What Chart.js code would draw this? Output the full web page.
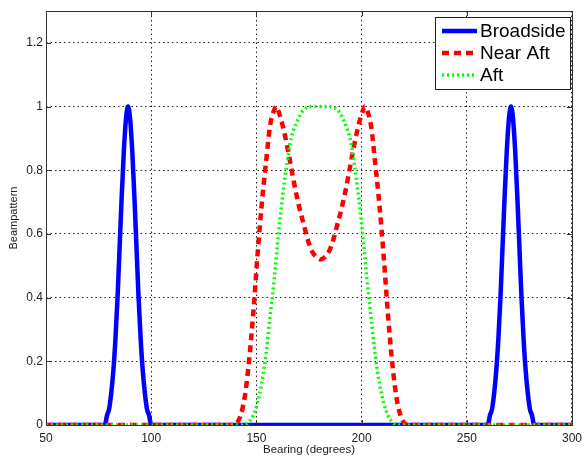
<!DOCTYPE html>
<html>
<head>
<meta charset="utf-8">
<script src="https://cdn.jsdelivr.net/npm/chart.js@4"></script>
<style>
  html, body { margin: 0; padding: 0; background: #fff; }
  #wrap { width: 588px; height: 457px; }
</style>
</head>
<body>
<div id="wrap"><canvas id="beamChart"></canvas></div>
<script>
// Datos
const xTicks = [50, 100, 150, 200, 250, 300];
const yTicks = [0, 0.2, 0.4, 0.6, 0.8, 1, 1.2];

const broadsideBearing = [50,
  78, 79, 80, 81, 82, 83, 84, 85, 86, 87, 88, 89, 90, 91, 92, 93, 94, 95, 96, 97, 98, 99, 100,
  260, 261, 262, 263, 264, 265, 266, 267, 268, 269, 270, 271, 272, 273, 274, 275, 276, 277, 278, 279, 280, 281, 282,
  300];
const broadsideLevel = [0,
  0, 0.03, 0.05, 0.1, 0.17, 0.27, 0.4, 0.56, 0.72, 0.86, 0.96, 1, 0.96, 0.86, 0.72, 0.56, 0.4, 0.27, 0.17, 0.1, 0.05, 0.03, 0,
  0, 0.03, 0.05, 0.1, 0.17, 0.27, 0.4, 0.56, 0.72, 0.86, 0.96, 1, 0.96, 0.86, 0.72, 0.56, 0.4, 0.27, 0.17, 0.1, 0.05, 0.03, 0,
  0];

const nearAftBearing = [50,
  138.5, 140.5, 142.5, 144.5, 146.5, 148.5, 150.5, 152.5, 154.5, 156.5, 158.5, 159.5, 160.5, 162.5, 164.5, 166.5,
  168.5, 170.5, 172.5, 174.5, 176.5, 178.5, 180.5,
  182.5, 184.5, 186.5, 188.5, 190.5, 192.5, 194.5, 196.5, 198.5, 200.5, 201.5, 202.5, 204.5, 206.5, 208.5, 210.5,
  212.5, 214.5, 216.5, 218.5, 220.5, 222.5,
  300];
const nearAftLevel = [0,
  0, 0.005, 0.03, 0.09, 0.2, 0.35, 0.53, 0.69, 0.82, 0.94, 0.99, 1, 0.985, 0.94, 0.88, 0.81,
  0.74, 0.68, 0.63, 0.58, 0.545, 0.527, 0.52,
  0.527, 0.545, 0.58, 0.63, 0.68, 0.74, 0.81, 0.88, 0.94, 0.985, 1, 0.99, 0.94, 0.82, 0.69, 0.53,
  0.35, 0.2, 0.09, 0.03, 0.005, 0,
  0];

const aftBearing = [50,
  144.5, 146.5, 148.5, 150.5, 152.5, 154.5, 156.5, 158.5, 160.5, 162.5, 164.5, 166.5, 168.5, 170.5, 172.5, 176.5,
  180.5,
  184.5, 188.5, 190.5, 192.5, 194.5, 196.5, 198.5, 200.5, 202.5, 204.5, 206.5, 208.5, 210.5, 212.5, 214.5, 216.5,
  300];
const aftLevel = [0,
  0, 0.01, 0.03, 0.07, 0.13, 0.22, 0.34, 0.46, 0.6, 0.72, 0.82, 0.9, 0.94, 0.97, 0.99, 1,
  1,
  1, 0.99, 0.97, 0.94, 0.9, 0.82, 0.72, 0.6, 0.46, 0.34, 0.22, 0.13, 0.07, 0.03, 0.01, 0,
  0];

const toPoints = (xs, ys) => xs.map((x, i) => ({ x: x, y: ys[i] }));

const gridDash = [1.5, 3];
const fontName = "'Liberation Sans', Arial, sans-serif";

// Marco, marcas de escala y leyenda dentro del área
const matlabFrame = {
  id: 'matlabFrame',
  afterDraw(chart) {
    const ctx = chart.ctx;
    const a = chart.chartArea;
    const xs = chart.scales.x, ys = chart.scales.y;
    ctx.save();
    ctx.strokeStyle = '#333';
    ctx.lineWidth = 1;
    ctx.setLineDash([]);
    ctx.strokeRect(Math.round(a.left) + 0.5, Math.round(a.top) + 0.5,
      Math.round(a.right - a.left), Math.round(a.bottom - a.top));
    ctx.beginPath();
    xTicks.forEach(t => {
      const px = Math.round(xs.getPixelForValue(t)) + 0.5;
      ctx.moveTo(px, a.bottom); ctx.lineTo(px, a.bottom - 5);
      ctx.moveTo(px, a.top); ctx.lineTo(px, a.top + 5);
    });
    yTicks.forEach(t => {
      const py = Math.round(ys.getPixelForValue(t)) + 0.5;
      ctx.moveTo(a.left, py); ctx.lineTo(a.left + 5, py);
      ctx.moveTo(a.right, py); ctx.lineTo(a.right - 5, py);
    });
    ctx.stroke();

    // leyenda
    const bx = 435.5, by = 17.5, bw = 135, bh = 72;
    ctx.fillStyle = '#fff';
    ctx.fillRect(bx, by, bw, bh);
    ctx.strokeStyle = '#222';
    ctx.strokeRect(bx, by, bw, bh);
    ctx.font = '19px ' + fontName;
    ctx.textBaseline = 'middle';
    ctx.textAlign = 'left';
    chart.data.datasets.forEach((ds, i) => {
      const y = 31 + i * 22;
      ctx.beginPath();
      ctx.strokeStyle = ds.borderColor;
      ctx.lineWidth = ds.borderWidth;
      ctx.setLineDash(ds.borderDash || []);
      ctx.moveTo(442, y); ctx.lineTo(477, y);
      ctx.stroke();
      ctx.setLineDash([]);
      ctx.fillStyle = '#000';
      ctx.fillText(ds.label, 480, y + 1);
    });
    ctx.restore();
  }
};

new Chart(document.getElementById('beamChart'), {
  type: 'line',
  data: {
    datasets: [{
      label: 'Broadside',
      data: toPoints(broadsideBearing, broadsideLevel),
      borderColor: '#0000ff',
      borderWidth: 4.5,
      order: 2
    }, {
      label: 'Near Aft',
      data: toPoints(nearAftBearing, nearAftLevel),
      borderColor: '#ff0000',
      borderWidth: 4.5,
      borderDash: [7, 5],
      order: 1
    }, {
      label: 'Aft',
      data: toPoints(aftBearing, aftLevel),
      borderColor: '#00ff00',
      borderWidth: 3.5,
      borderDash: [2, 3],
      order: 0
    }]
  },
  options: {
    responsive: true,
    maintainAspectRatio: false,
    animation: false,
    elements: { point: { radius: 0 }, line: { cubicInterpolationMode: 'monotone', fill: false } },
    layout: { padding: { top: 11, right: 12, left: 0, bottom: 0 } },
    plugins: { legend: { display: false }, tooltip: { enabled: false } },
    scales: {
      x: {
        type: 'linear',
        min: 50, max: 300,
        afterFit: s => { s.height = 32; },
        afterBuildTicks: s => { s.ticks = xTicks.map(v => ({ value: v })); },
        grid: { color: '#222', lineWidth: 1, drawTicks: false },
        border: { display: false, dash: gridDash },
        ticks: { color: '#222', font: { family: fontName, size: 12 }, padding: 6, maxRotation: 0 },
        title: { display: true, text: 'Bearing (degrees)', color: '#222',
          font: { family: fontName, size: 11.5 }, padding: { top: 0, bottom: 0 } }
      },
      y: {
        min: 0, max: 1.3,
        afterFit: s => { s.width = 46; },
        afterBuildTicks: s => { s.ticks = yTicks.map(v => ({ value: v })); },
        grid: { color: '#222', lineWidth: 1, drawTicks: false },
        border: { display: false, dash: gridDash },
        ticks: { color: '#222', font: { family: fontName, size: 12 }, padding: 3,
          callback: v => String(+v.toFixed(1)) },
        title: { display: true, text: 'Beampattern', color: '#222',
          font: { family: fontName, size: 11 }, padding: { top: 7, bottom: 0 } }
      }
    }
  },
  plugins: [matlabFrame]
});
</script>
</body>
</html>
